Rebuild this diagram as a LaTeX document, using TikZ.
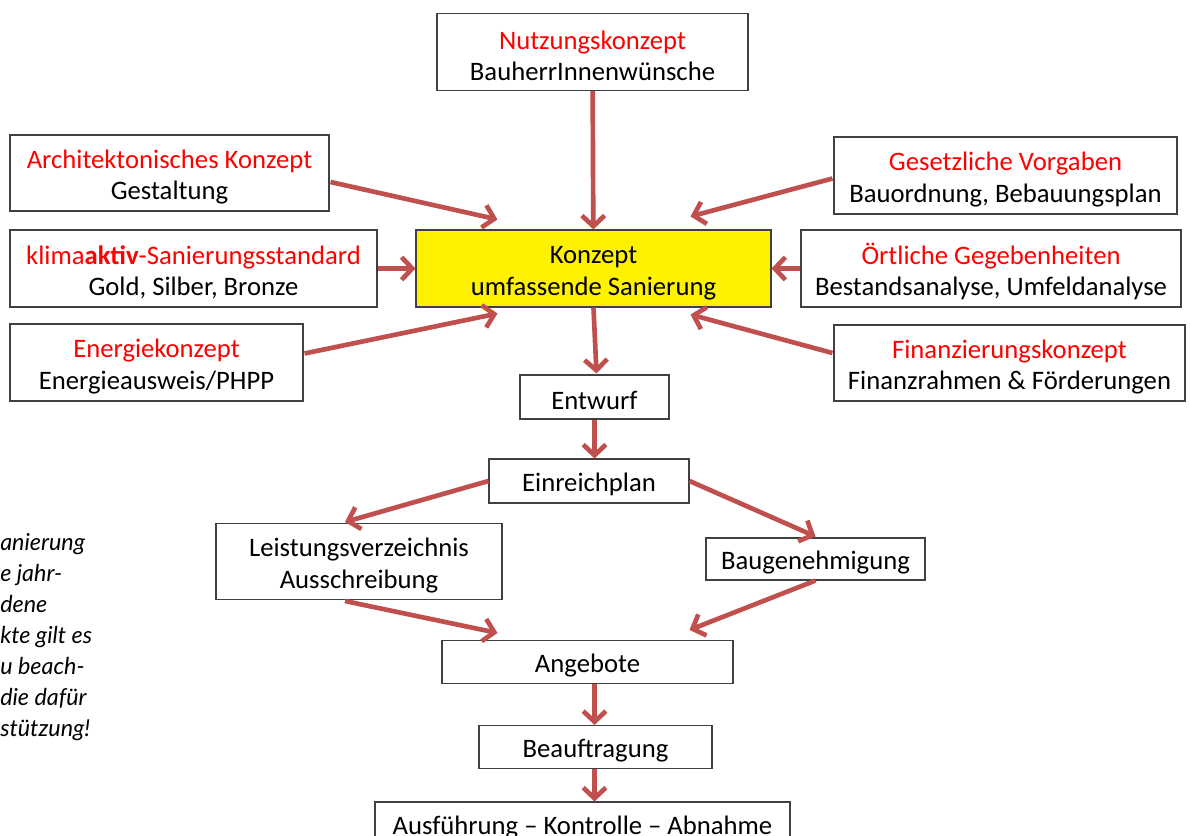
\documentclass[tikz,border=0pt]{standalone}
\usepackage{fontspec}
\setmainfont{Carlito}
\newfontfamily\randfont{Lato}
\usepackage{tikz}
\usetikzlibrary{arrows.meta,calc}
\definecolor{pfeilrot}{RGB}{192,80,77}
\definecolor{rahmen}{RGB}{64,64,64}
\newcommand{\hochzeile}{\rule{0pt}{20pt}}

\begin{document}
\begin{tikzpicture}[x=0.75pt,y=-0.75pt,
  kasten/.style={draw=rahmen,line width=0.8pt,rectangle,align=center,inner sep=0pt,
    font=\fontsize{20}{23.5}\selectfont,execute at begin node={\rule{0pt}{19pt}}},
  pfeil/.style={draw=pfeilrot,line width=3.5pt,-{Straight Barb[length=8pt,width=17pt]}}]
\useasboundingbox (0,0) rectangle (1190,836);

%\draw [thin,gray] (0,0) rectangle (1190,836);
\node [kasten,minimum width=233.25pt,minimum height=57.75pt] (nutz) at(592.5,52){\hochzeile\textcolor{red}{Nutzungskonzept}\\BauherrInnenwünsche};
\node [kasten,minimum width=239.25pt,minimum height=57pt] (arch) at(169.5,173){\hochzeile\textcolor{red}{Architektonisches Konzept}\\Gestaltung};
\node [kasten,minimum width=257.25pt,minimum height=57.75pt] (gesetz) at(1005.5,175.5){\hochzeile\textcolor{red}{Gesetzliche Vorgaben}\\Bauordnung, Bebauungsplan};
\node [kasten,minimum width=275.25pt,minimum height=57.75pt] (klima) at(193.5,268.5){\hochzeile\textcolor{red}{klima\textbf{aktiv}-Sanierungsstandard}\\Gold, Silber, Bronze};
\node [kasten,fill=yellow,minimum width=266.25pt,minimum height=57.75pt] (konzept) at(593.5,268.5){\hochzeile Konzept\\umfassende Sanierung};
\node [kasten,minimum width=285pt,minimum height=57.75pt] (oertl) at(991,268.5){\hochzeile\textcolor{red}{Örtliche Gegebenheiten}\\Bestandsanalyse, Umfeldanalyse};
\node [kasten,minimum width=219.75pt,minimum height=57.75pt] (energie) at(156.5,362.5){\hochzeile\textcolor{red}{Energiekonzept}\\Energieausweis/PHPP};
\node [kasten,minimum width=263.25pt,minimum height=57pt] (finanz) at(1009.5,363){\hochzeile\textcolor{red}{Finanzierungskonzept}\\Finanzrahmen \& Förderungen};

\node [kasten,minimum width=111.75pt,minimum height=33pt] (entwurf) at(594.5,397){Entwurf};
\node [kasten,minimum width=150pt,minimum height=33pt] (einreich) at(589,481){Einreichplan};
\node [kasten,minimum width=214.5pt,minimum height=57pt] (leist) at(359,561.5){\hochzeile Leistungsverzeichnis\\Ausschreibung};
\node [kasten,minimum width=164.25pt,minimum height=31.5pt] (baugen) at(815.5,559){Baugenehmigung};
\node [kasten,minimum width=218.25pt,minimum height=32.25pt] (angebote) at(587.5,662){Angebote};
\node [kasten,minimum width=174.75pt,minimum height=32.25pt] (beauftr) at(595.5,747){Beauftragung};
\node [kasten,minimum width=311.25pt,minimum height=33pt] (ausf) at(582.5,824){Ausführung -- Kontrolle -- Abnahme};

% Text am linken Rand (abgeschnitten)
\node [anchor=north west,align=left,inner sep=0pt,
  font=\randfont\itshape\fontsize{17.5}{23.25}\selectfont] (rand) at(0,533)
  {anierung\\e jahr-\\dene\\kte gilt es\\u beach-\\die dafür\\stützung!};

% Einflüsse auf das Konzept
\draw[pfeil](nutz) -- (konzept);
\draw[pfeil]($(arch.east)+(1,9)$) -- ($(konzept.north)+(-96,-10)$);
\draw[pfeil]($(gesetz.west)+(-1,3)$) -- ($(konzept.north)+(97,-13)$);
\draw[pfeil](klima) -- (konzept);
\draw[pfeil](oertl) -- (konzept);
\draw[pfeil]($(energie.east)+(1,-9)$) -- ($(konzept.south)+(-96,6)$);
\draw[pfeil]($(finanz.west)+(-1,-10)$) -- ($(konzept.south)+(97,7)$);

% Ablauf
\draw[pfeil](konzept.south) -- ($(entwurf.north)+(2,-1)$);
\draw[pfeil](entwurf.south) -- (entwurf.south |- einreich.north);
\draw[pfeil](einreich.west) -- ($(leist.north)+(-14,-1)$);
\draw[pfeil](einreich.east) -- ($(baugen.north)+(0,-1)$);
\draw[pfeil]($(leist.south)+(-14,1)$) -- ($(angebote.north)+(-90,-7)$);
\draw[pfeil](baugen.south) -- ($(angebote.north)+(102,-10)$);
\draw[pfeil]($(angebote.south)+(7,0)$) -- ($(beauftr.north)+(-1,0)$);
\draw[pfeil]($(beauftr.south)+(-1,0)$) -- ($(ausf.north)+(12,0)$);

\end{tikzpicture}
\end{document}
